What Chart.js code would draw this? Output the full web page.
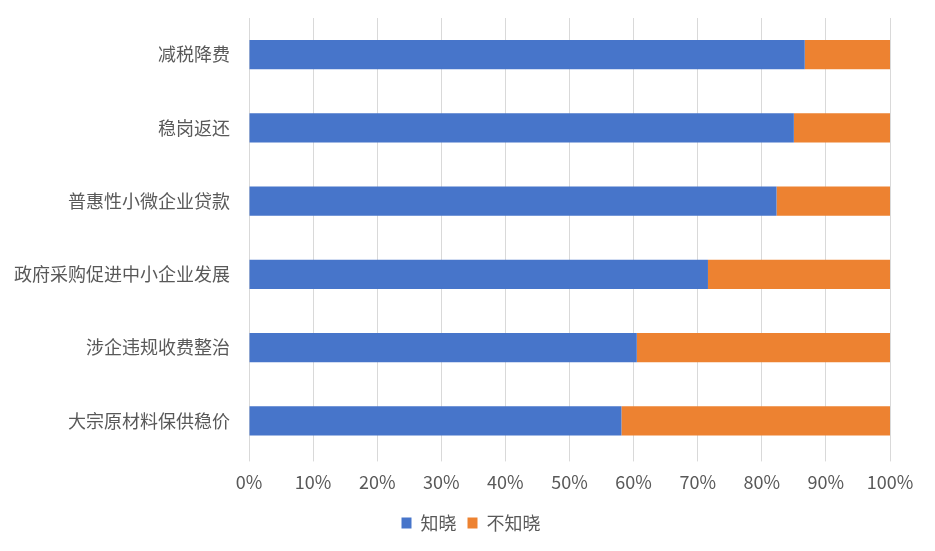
<!DOCTYPE html>
<html>
<head>
<meta charset="utf-8">
<script src="https://cdn.jsdelivr.net/npm/chart.js@4/dist/chart.umd.min.js"></script>
<style>
  html, body { margin: 0; padding: 0; background: #fff; }
  #wrap { width: 935px; height: 551px; }
</style>
</head>
<body>
<div id="wrap"><canvas id="bar-chart"></canvas></div>
<script>
// categories, top to bottom
const gCategories = ['减税降费', '稳岗返还', '普惠性小微企业贷款', '政府采购促进中小企业发展', '涉企违规收费整治', '大宗原材料保供稳价'];
// percent who know the policy
const gKnown = [86.7, 85.0, 82.3, 71.6, 60.5, 58.1];
// percent who do not
const gUnknown = gKnown.map((v) => +(100 - v).toFixed(1));
const gSeriesNames = ['知晓', '不知晓'];
const gXTicks = [0, 10, 20, 30, 40, 50, 60, 70, 80, 90, 100];

const G_FONT = '"Noto Sans CJK SC", "Noto Sans", sans-serif';
const G_TEXT = '#595959';

// move the bottom legend so it is centred on the whole picture
const gLegendShift = {
  id: 'legendShift',
  afterLayout(chart) {
    chart.legend.left += 26;
    chart.legend.right += 26;
  },
};

let vCtx = document.getElementById('bar-chart').getContext('2d');
new Chart(vCtx, {
  type: 'bar',
  data: {
    labels: gCategories,
    datasets: [
      {
        label: gSeriesNames[0],
        data: gKnown,
        backgroundColor: '#4775CA',
        barPercentage: 0.8,
        categoryPercentage: 0.5,
      },
      {
        label: gSeriesNames[1],
        data: gUnknown,
        backgroundColor: '#ED8231',
        barPercentage: 0.8,
        categoryPercentage: 0.5,
      },
    ],
  },
  options: {
    indexAxis: 'y',
    responsive: true,
    maintainAspectRatio: false,
    animation: false,
    layout: { padding: { top: 18, right: 45, left: 0, bottom: 9 } },
    scales: {
      x: {
        stacked: true,
        min: 0,
        max: 100,
        afterBuildTicks: (axis) => {
          axis.ticks = gXTicks.map((v) => ({ value: v }));
        },
        grid: { color: '#D9D9D9', lineWidth: 1, drawTicks: true, tickLength: 4 },
        border: { display: false },
        ticks: {
          color: G_TEXT,
          font: { family: G_FONT, size: 18 },
          padding: 10,
          callback: (v) => v + '%',
        },
      },
      y: {
        stacked: true,
        grid: { display: false, drawTicks: false },
        border: { display: false },
        afterFit: (axis) => {
          axis.width = 249;
          axis.paddingTop = 0;
          axis.paddingBottom = 0;
        },
        ticks: {
          color: G_TEXT,
          font: { family: G_FONT, size: 18 },
          padding: 19,
        },
      },
    },
    plugins: {
      legend: {
        position: 'bottom',
        labels: {
          color: G_TEXT,
          font: { family: G_FONT, size: 18 },
          boxWidth: 10,
          boxHeight: 11,
          padding: 11,
        },
      },
      tooltip: { enabled: false },
    },
  },
  plugins: [gLegendShift],
});
</script>
</body>
</html>
